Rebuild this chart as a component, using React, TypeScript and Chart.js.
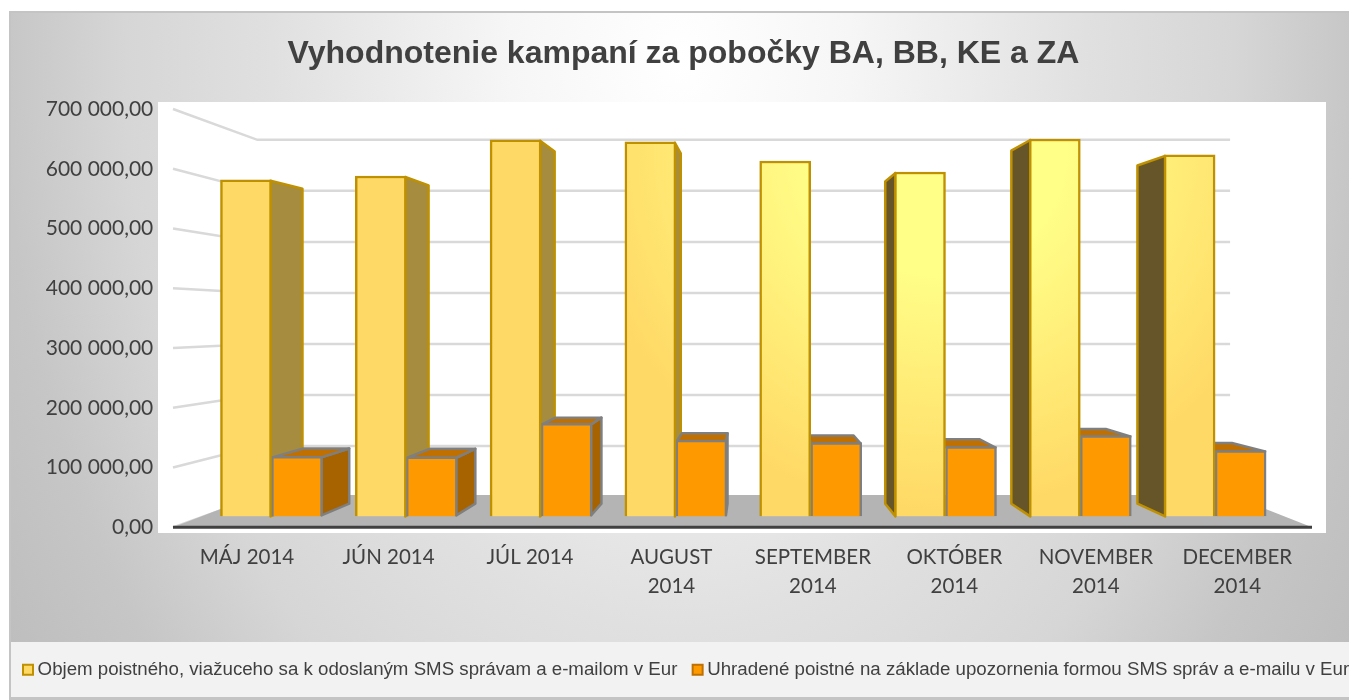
import React, { useEffect, useRef } from "react";
import { Chart, registerables } from "chart.js";

Chart.register(...registerables);

const categories: (string | string[])[] = [
  "MÁJ 2014",
  "JÚN 2014",
  "JÚL 2014",
  ["AUGUST", "2014"],
  ["SEPTEMBER", "2014"],
  ["OKTÓBER", "2014"],
  ["NOVEMBER", "2014"],
  ["DECEMBER", "2014"],
];
const objemValues = [581700, 588200, 650700, 647200, 614200, 595200, 652200, 624700];
const uhradeneValues = [103700, 103000, 160700, 131700, 127700, 120700, 139700, 113700];
const objemLabel = "Objem poistného, viažuceho sa k odoslaným SMS správam a e-mailom v Eur";
const uhradeneLabel = "Uhradené poistné na základe upozornenia formou SMS správ a e-mailu v Eur";
const titleText = "Vyhodnotenie kampaní za pobočky BA, BB, KE a ZA";

const W = 1349;
const H = 700;
const VX = 751;
const VY = 320;
const BAR_DEPTH = 0.0646;
const WALL_DEPTH = 0.146;

const project = (x: number, y: number, d: number): [number, number] => [
  x + (VX - x) * d,
  y + (VY - y) * d,
];

const poly = (ctx: CanvasRenderingContext2D, pts: [number, number][], fill: string, stroke: string, lw = 2.5) => {
  ctx.beginPath();
  pts.forEach((p, i) => (i ? ctx.lineTo(p[0], p[1]) : ctx.moveTo(p[0], p[1])));
  ctx.closePath();
  ctx.fillStyle = fill;
  ctx.fill();
  if (stroke) {
    ctx.strokeStyle = stroke;
    ctx.lineWidth = lw;
    ctx.lineJoin = "round";
    ctx.stroke();
  }
};

const scene = {
  id: "scene",
  afterLayout(chart: any) {
    chart.titleBlock.left += 9;
    chart.titleBlock.right += 9;
    chart.legend.left = 18.15;
    chart.legend.right = 1500;
  },
  beforeDraw(chart: any) {
    const ctx = chart.ctx as CanvasRenderingContext2D;
    ctx.save();
    ctx.beginPath();
    ctx.rect(9, 12, W - 9, H - 12);
    ctx.translate(680, 60);
    ctx.scale(1, 950 / 680);
    const g = ctx.createRadialGradient(0, 0, 0, 0, 0, 816);
    g.addColorStop(0, "#ffffff");
    g.addColorStop(0.21, "#f6f6f6");
    g.addColorStop(0.5, "#e0e0e0");
    g.addColorStop(0.68, "#d6d6d6");
    g.addColorStop(0.83, "#c6c6c6");
    g.addColorStop(1, "#bcbcbc");
    ctx.fillStyle = g;
    ctx.fill();
    ctx.restore();
    ctx.save();
    ctx.fillStyle = "#c4c4c4";
    ctx.fillRect(9, 11, W - 9, 2);
    ctx.fillRect(9, 11, 2, H - 11);
    ctx.fillRect(9, 697, W - 9, 3);
    ctx.fillStyle = "#f2f2f2";
    ctx.fillRect(11, 642, W - 11, 55);
    ctx.fillStyle = "#ffffff";
    ctx.fillRect(158, 102, 1168, 431);
    ctx.restore();
  },
  beforeDatasetsDraw(chart: any) {
    const ctx = chart.ctx as CanvasRenderingContext2D;
    const y = chart.scales.y;
    const left = 173;
    const right = 1312;
    ctx.save();
    // walls: gridlines from the value axis ticks
    ctx.strokeStyle = "#d9d9d9";
    ctx.lineWidth = 2.5;
    y.ticks.forEach((_: any, i: number) => {
      const py = y.getPixelForTick(i);
      const a = project(left, py, WALL_DEPTH);
      const b = project(right, py, WALL_DEPTH);
      ctx.beginPath();
      ctx.moveTo(left, py);
      ctx.lineTo(a[0], a[1]);
      ctx.lineTo(b[0], b[1]);
      ctx.stroke();
    });
    // floor
    const y0 = y.getPixelForValue(0);
    const fa = project(left, y0, WALL_DEPTH);
    const fb = project(right, y0, WALL_DEPTH);
    poly(ctx, [[left, y0], [fa[0], fa[1] - 2], [fb[0], fb[1] - 2], [right, y0]], "#b4b4b4", "");

    const yellow = chart.getDatasetMeta(0).data;
    const orange = chart.getDatasetMeta(1).data;
    yellow.forEach((b: any) => {
      const l = b.x - b.width / 2;
      const r = b.x + b.width / 2;
      if (r < VX) {
        const t = project(r, b.y, BAR_DEPTH);
        const u = project(r, b.base, BAR_DEPTH);
        poly(ctx, [[r - 1, b.y + 1], t, u, [r - 1, b.base]], "#a68c3e", "#bf9000");
      } else if (l > VX + 40) {
        const t = project(l, b.y, BAR_DEPTH);
        const u = project(l, b.base, BAR_DEPTH);
        poly(ctx, [[l + 1, b.y + 1], t, u, [l + 1, b.base]], "#665528", "#bf9000");
      }
    });
    orange.forEach((b: any) => {
      const l = b.x - b.width / 2 + 1;
      const r = b.x + b.width / 2 - 1;
      const tl = project(l, b.y + 1, BAR_DEPTH);
      const tr = project(r, b.y + 1, BAR_DEPTH);
      if (r < VX) {
        const u = project(r, b.base, BAR_DEPTH);
        poly(ctx, [[r, b.y + 1], tr, u, [r, b.base - 1]], "#a66300", "#7f7f7f");
      }
      poly(ctx, [[l, b.y + 1], tl, tr, [r, b.y + 1]], "#c07000", "#7f7f7f");
    });
    // front edge of the floor
    ctx.strokeStyle = "#404040";
    ctx.lineWidth = 3;
    ctx.beginPath();
    ctx.moveTo(left, y0);
    ctx.lineTo(right, y0);
    ctx.stroke();
    ctx.restore();
  },
};

const yellowFill = (c: any) => {
  const g = c.chart.ctx.createRadialGradient(940, 150, 120, 940, 150, 360);
  g.addColorStop(0, "#ffff88");
  g.addColorStop(1, "#ffd966");
  return g;
};

const toPoints = (vals: number[]) => vals.map((v, i) => ({ x: i, y: v }));
const fmt = (v: number) =>
  (v === 0 ? "0" : String(v).replace(/\B(?=(\d{3})+$)/g, " ")) + ",00";

export default function App() {
  const ref = useRef<HTMLCanvasElement>(null);
  useEffect(() => {
    const chart = new Chart(ref.current!, {
      type: "bar",
      plugins: [scene],
      data: {
        labels: categories as any,
        datasets: [
          {
            label: objemLabel,
            data: toPoints(objemValues) as any,
            xAxisID: "x1",
            yAxisID: "y1",
            backgroundColor: yellowFill as any,
            borderColor: "#bf9000",
            borderWidth: 2.5,
            barThickness: 51,
          },
          {
            label: uhradeneLabel,
            data: toPoints(uhradeneValues) as any,
            xAxisID: "x1",
            yAxisID: "y1",
            backgroundColor: "#ff9900",
            borderColor: "#7f7f7f",
            borderWidth: 2.5,
            barThickness: 51,
          },
        ],
      },
      options: {
        responsive: false,
        animation: false,
        layout: { padding: { left: 0, right: 0, top: 0, bottom: 10.8 } },
        plugins: {
          tooltip: { enabled: false },
          title: {
            display: true,
            text: titleText,
            color: "#404040",
            font: { family: "Liberation Sans", size: 32, weight: "bold" },
            padding: { top: 35, bottom: 35.6 },
          },
          legend: {
            position: "bottom",
            align: "start",
            labels: {
              color: "#404040",
              font: { family: "Liberation Sans", size: 18.7 },
              usePointStyle: true,
              pointStyle: "rect",
              boxWidth: 0.5,
              boxHeight: 10,
              padding: 9.6,
              generateLabels: () => [
                { text: objemLabel + "  ", fontColor: "#404040", fillStyle: "#ffd966", strokeStyle: "#bf9000", lineWidth: 2, pointStyle: "rect", datasetIndex: 0 },
                { text: uhradeneLabel, fontColor: "#404040", fillStyle: "#ff9900", strokeStyle: "#bf7000", lineWidth: 2, pointStyle: "rect", datasetIndex: 1 },
              ] as any,
            },
          },
        },
        scales: {
          x: {
            type: "category",
            position: "bottom",
            offset: true,
            grid: { display: false },
            border: { display: false },
            ticks: {
              color: "#404040",
              font: { family: "Lato", size: 20.5, lineHeight: 1.41 },
              padding: 8,
              autoSkip: false,
              maxRotation: 0,
              minRotation: 0,
            },
            afterFit: (s: any) => {
              s.height = 123.55;
            },
          },
          x1: { type: "linear", display: false, min: -0.706, max: 7.689, offset: false, grid: { display: false } },
          y: {
            type: "linear",
            position: "left",
            min: 0,
            max: 700000,
            grid: { display: false },
            border: { display: false },
            ticks: {
              stepSize: 100000,
              color: "#404040",
              font: { family: "Lato", size: 21 },
              padding: 15,
              callback: (v: any) => fmt(Number(v)),
            },
            afterFit: (s: any) => {
              s.width = 176.3;
            },
          },
          y1: {
            type: "linear",
            position: "right",
            min: -19000,
            max: 704000,
            grid: { display: false },
            border: { display: false },
            ticks: { display: false },
            afterFit: (s: any) => {
              s.width = 41;
            },
          },
        },
      } as any,
    });
    return () => chart.destroy();
  }, []);
  return (
    <div style={{ position: "absolute", left: 0, top: 0, width: W, height: H }}>
      <canvas ref={ref} width={W} height={H} style={{ display: "block" }} />
    </div>
  );
}
